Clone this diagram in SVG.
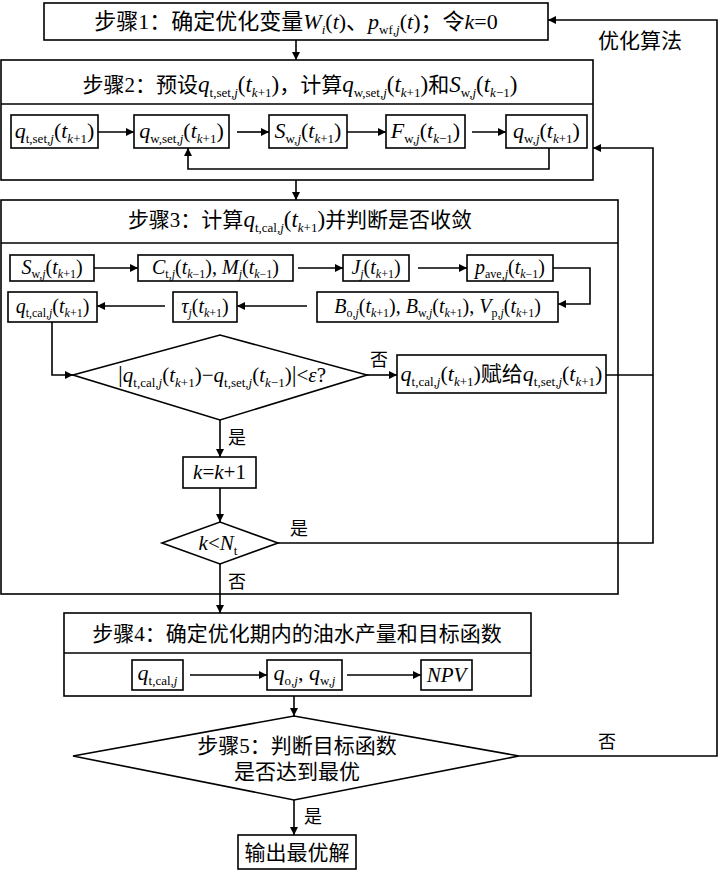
<svg xmlns="http://www.w3.org/2000/svg" width="721" height="872" viewBox="0 0 721 872">
<style>
text{font-family:"Liberation Serif","Noto Sans CJK SC",serif;fill:#000;}
.t22{font-size:22px}
.t21{font-size:21px}
.t20{font-size:20px}
.t19{font-size:19px}
.t18{font-size:18px}
.it{font-style:italic}
.sb{font-size:13px}
.sb2{font-size:12px}
.box{fill:#fff;stroke:#000;stroke-width:1.6}
.ln{fill:none;stroke:#000;stroke-width:1.6}
.mid{text-anchor:middle}
</style>
<defs>
<marker id="ah" viewBox="0 0 10 10" refX="10" refY="5" markerWidth="10" markerHeight="8" markerUnits="userSpaceOnUse" orient="auto">
<path d="M0,0 L10,5 L0,10 z" fill="#000"/>
</marker>
</defs>

<g id="step1">
<rect class="box" x="44" y="3" width="504" height="37"/>
<text class="t22 mid" x="296" y="29">步骤1：确定优化变量<tspan class="it">W</tspan><tspan class="sb it" dy="5">i</tspan><tspan dy="-5">(</tspan><tspan class="it">t</tspan>)、<tspan class="it">p</tspan><tspan class="sb" dy="5">wf,<tspan class="it">j</tspan></tspan><tspan dy="-5">(</tspan><tspan class="it">t</tspan>)；令<tspan class="it">k</tspan>=0</text>
</g>

<g id="step2">
<rect class="box" x="1" y="60" width="592" height="120"/>
<line class="ln" x1="1" y1="104" x2="593" y2="104"/>
<text class="t21 mid" x="300" y="92">步骤2：预设<tspan class="it" font-size="23">q</tspan><tspan class="sb" dy="5">t,set,<tspan class="it">j</tspan></tspan><tspan dy="-5" font-size="23">(</tspan><tspan class="it" font-size="23">t</tspan><tspan class="sb" dy="5"><tspan class="it">k</tspan>+1</tspan><tspan dy="-5" font-size="23">)</tspan><tspan>，计算</tspan><tspan class="it" font-size="23">q</tspan><tspan class="sb" dy="5">w,set,<tspan class="it">j</tspan></tspan><tspan dy="-5" font-size="23">(</tspan><tspan class="it" font-size="23">t</tspan><tspan class="sb" dy="5"><tspan class="it">k</tspan>+1</tspan><tspan dy="-5" font-size="23">)</tspan><tspan>和</tspan><tspan class="it" font-size="23">S</tspan><tspan class="sb" dy="5">w,<tspan class="it">j</tspan></tspan><tspan dy="-5" font-size="23">(</tspan><tspan class="it" font-size="23">t</tspan><tspan class="sb" dy="5"><tspan class="it">k</tspan>−1</tspan><tspan dy="-5" font-size="23">)</tspan></text>
</g>

<g id="s2a">
<rect class="box" x="11" y="115" width="87" height="33"/>
<text class="t22 mid" x="54.5" y="138"><tspan class="it">q</tspan><tspan class="sb" dy="5">t,set,<tspan class="it">j</tspan></tspan><tspan dy="-5">(</tspan><tspan class="it">t</tspan><tspan class="sb" dy="5"><tspan class="it">k</tspan>+1</tspan><tspan dy="-5">)</tspan></text>
</g>
<g id="s2b">
<rect class="box" x="134" y="115" width="95" height="33"/>
<text class="t22 mid" x="181.5" y="138"><tspan class="it">q</tspan><tspan class="sb" dy="5">w,set,<tspan class="it">j</tspan></tspan><tspan dy="-5">(</tspan><tspan class="it">t</tspan><tspan class="sb" dy="5"><tspan class="it">k</tspan>+1</tspan><tspan dy="-5">)</tspan></text>
</g>
<g id="s2c">
<rect class="box" x="269" y="115" width="78" height="33"/>
<text class="t22 mid" x="308" y="138"><tspan class="it">S</tspan><tspan class="sb" dy="5">w,<tspan class="it">j</tspan></tspan><tspan dy="-5">(</tspan><tspan class="it">t</tspan><tspan class="sb" dy="5"><tspan class="it">k</tspan>+1</tspan><tspan dy="-5">)</tspan></text>
</g>
<g id="s2d">
<rect class="box" x="386" y="115" width="79" height="33"/>
<text class="t22 mid" x="425.5" y="138"><tspan class="it">F</tspan><tspan class="sb" dy="5">w,<tspan class="it">j</tspan></tspan><tspan dy="-5">(</tspan><tspan class="it">t</tspan><tspan class="sb" dy="5"><tspan class="it">k</tspan>−1</tspan><tspan dy="-5">)</tspan></text>
</g>
<g id="s2e">
<rect class="box" x="506" y="115" width="81" height="33"/>
<text class="t22 mid" x="546.5" y="138"><tspan class="it">q</tspan><tspan class="sb" dy="5">w,<tspan class="it">j</tspan></tspan><tspan dy="-5">(</tspan><tspan class="it">t</tspan><tspan class="sb" dy="5"><tspan class="it">k</tspan>+1</tspan><tspan dy="-5">)</tspan></text>
</g>

<g id="step3">
<rect class="box" x="1" y="200" width="617" height="394"/>
<line class="ln" x1="1" y1="243" x2="618" y2="243"/>
<text class="t21 mid" x="300" y="227">步骤3：计算<tspan class="it" font-size="23">q</tspan><tspan class="sb" dy="5">t,cal,<tspan class="it">j</tspan></tspan><tspan dy="-5" font-size="23">(</tspan><tspan class="it" font-size="23">t</tspan><tspan class="sb" dy="5"><tspan class="it">k</tspan>+1</tspan><tspan dy="-5" font-size="23">)</tspan><tspan>并判断是否收敛</tspan></text>
</g>

<g id="s3a">
<rect class="box" x="10" y="255" width="84" height="26"/>
<text class="t20 mid" x="52" y="274"><tspan class="it">S</tspan><tspan class="sb2" dy="4">w,<tspan class="it">j</tspan></tspan><tspan dy="-4">(</tspan><tspan class="it">t</tspan><tspan class="sb2" dy="4"><tspan class="it">k</tspan>+1</tspan><tspan dy="-4">)</tspan></text>
</g>
<g id="s3b">
<rect class="box" x="138" y="255" width="155" height="26"/>
<text class="t20 mid" x="215.5" y="274"><tspan class="it">C</tspan><tspan class="sb2" dy="4">t,<tspan class="it">j</tspan></tspan><tspan dy="-4">(</tspan><tspan class="it">t</tspan><tspan class="sb2" dy="4"><tspan class="it">k</tspan>−1</tspan><tspan dy="-4">), </tspan><tspan class="it">M</tspan><tspan class="sb2 it" dy="4">j</tspan><tspan dy="-4">(</tspan><tspan class="it">t</tspan><tspan class="sb2" dy="4"><tspan class="it">k</tspan>−1</tspan><tspan dy="-4">)</tspan></text>
</g>
<g id="s3c">
<rect class="box" x="343" y="255" width="66" height="26"/>
<text class="t20 mid" x="376" y="274"><tspan class="it">J</tspan><tspan class="sb2 it" dy="4">j</tspan><tspan dy="-4">(</tspan><tspan class="it">t</tspan><tspan class="sb2" dy="4"><tspan class="it">k</tspan>+1</tspan><tspan dy="-4">)</tspan></text>
</g>
<g id="s3d">
<rect class="box" x="467" y="255" width="86" height="26"/>
<text class="t20 mid" x="510" y="274"><tspan class="it">p</tspan><tspan class="sb2" dy="4">ave,<tspan class="it">j</tspan></tspan><tspan dy="-4">(</tspan><tspan class="it">t</tspan><tspan class="sb2" dy="4"><tspan class="it">k</tspan>−1</tspan><tspan dy="-4">)</tspan></text>
</g>
<g id="s3e">
<rect class="box" x="317" y="292" width="241" height="30"/>
<text class="t20 mid" x="437.5" y="313"><tspan class="it">B</tspan><tspan class="sb2" dy="4">o,<tspan class="it">j</tspan></tspan><tspan dy="-4">(</tspan><tspan class="it">t</tspan><tspan class="sb2" dy="4"><tspan class="it">k</tspan>+1</tspan><tspan dy="-4">), </tspan><tspan class="it">B</tspan><tspan class="sb2" dy="4">w,<tspan class="it">j</tspan></tspan><tspan dy="-4">(</tspan><tspan class="it">t</tspan><tspan class="sb2" dy="4"><tspan class="it">k</tspan>+1</tspan><tspan dy="-4">), </tspan><tspan class="it">V</tspan><tspan class="sb2" dy="4">p,<tspan class="it">j</tspan></tspan><tspan dy="-4">(</tspan><tspan class="it">t</tspan><tspan class="sb2" dy="4"><tspan class="it">k</tspan>+1</tspan><tspan dy="-4">)</tspan></text>
</g>
<g id="s3f">
<rect class="box" x="173" y="292" width="64" height="30"/>
<text class="t20 mid" x="205" y="313"><tspan class="it">τ</tspan><tspan class="sb2 it" dy="4">j</tspan><tspan dy="-4">(</tspan><tspan class="it">t</tspan><tspan class="sb2" dy="4"><tspan class="it">k</tspan>+1</tspan><tspan dy="-4">)</tspan></text>
</g>
<g id="s3g">
<rect class="box" x="8" y="292" width="89" height="30"/>
<text class="t20 mid" x="52.5" y="313"><tspan class="it">q</tspan><tspan class="sb2" dy="4">t,cal,<tspan class="it">j</tspan></tspan><tspan dy="-4">(</tspan><tspan class="it">t</tspan><tspan class="sb2" dy="4"><tspan class="it">k</tspan>+1</tspan><tspan dy="-4">)</tspan></text>
</g>

<g id="d1">
<polygon class="box" points="73,375 220,335 367,375 220,420"/>
<text class="t21 mid" x="222" y="382"><tspan font-size="24">|</tspan><tspan class="it">q</tspan><tspan class="sb" dy="5">t,cal,<tspan class="it">j</tspan></tspan><tspan dy="-5">(</tspan><tspan class="it">t</tspan><tspan class="sb" dy="5"><tspan class="it">k</tspan>+1</tspan><tspan dy="-5">)−</tspan><tspan class="it">q</tspan><tspan class="sb" dy="5">t,set,<tspan class="it">j</tspan></tspan><tspan dy="-5">(</tspan><tspan class="it">t</tspan><tspan class="sb" dy="5"><tspan class="it">k</tspan>−1</tspan><tspan dy="-5">)</tspan><tspan font-size="24">|</tspan>&lt;<tspan class="it">ε</tspan>?</text>
</g>

<g id="assign">
<rect class="box" x="397" y="355" width="209" height="38"/>
<text class="t21 mid" x="501.5" y="381"><tspan class="it" font-size="22">q</tspan><tspan class="sb" dy="5">t,cal,<tspan class="it">j</tspan></tspan><tspan dy="-5" font-size="22">(</tspan><tspan class="it" font-size="22">t</tspan><tspan class="sb" dy="5"><tspan class="it">k</tspan>+1</tspan><tspan dy="-5" font-size="22">)</tspan><tspan>赋给</tspan><tspan class="it" font-size="22">q</tspan><tspan class="sb" dy="5">t,set,<tspan class="it">j</tspan></tspan><tspan dy="-5" font-size="22">(</tspan><tspan class="it" font-size="22">t</tspan><tspan class="sb" dy="5"><tspan class="it">k</tspan>+1</tspan><tspan dy="-5" font-size="22">)</tspan></text>
</g>

<g id="kinc">
<rect class="box" x="183" y="457" width="73" height="31"/>
<text class="t21 mid" x="219.5" y="479"><tspan class="it">k</tspan>=<tspan class="it">k</tspan>+1</text>
</g>

<g id="d2">
<polygon class="box" points="162,543 220,522 278,543 220,564"/>
<text class="t21 mid" x="218" y="550"><tspan class="it">k</tspan>&lt;<tspan class="it">N</tspan><tspan class="sb" dy="5">t</tspan></text>
</g>

<g id="step4">
<rect class="box" x="64" y="613" width="467" height="83"/>
<line class="ln" x1="64" y1="653" x2="531" y2="653"/>
<text class="t21 mid" x="297" y="641">步骤4：确定优化期内的油水产量和目标函数</text>
</g>
<g id="s4a">
<rect class="box" x="132" y="660" width="51" height="30"/>
<text class="t22 mid" x="157.5" y="680"><tspan class="it">q</tspan><tspan class="sb" dy="5">t,cal,<tspan class="it">j</tspan></tspan></text>
</g>
<g id="s4b">
<rect class="box" x="267" y="660" width="75" height="30"/>
<text class="t22 mid" x="304.5" y="680"><tspan class="it">q</tspan><tspan class="sb" dy="5">o,<tspan class="it">j</tspan></tspan><tspan dy="-5">, </tspan><tspan class="it">q</tspan><tspan class="sb" dy="5">w,<tspan class="it">j</tspan></tspan></text>
</g>
<g id="s4c">
<rect class="box" x="421" y="660" width="51" height="30"/>
<text class="t21 mid it" x="446.5" y="682">NPV</text>
</g>

<g id="step5">
<polygon class="box" points="73,756 294,716 519,756 294,800"/>
<text class="t21 mid" x="297" y="753">步骤5：判断目标函数</text>
<text class="t21 mid" x="297" y="779">是否达到最优</text>
</g>

<g id="output">
<rect class="box" x="238" y="835" width="118" height="34"/>
<text class="t21 mid" x="297" y="860">输出最优解</text>
</g>

<g id="connectors">
<line class="ln" x1="296" y1="40" x2="296" y2="60" marker-end="url(#ah)"/>
<line class="ln" x1="98" y1="132" x2="134" y2="132" marker-end="url(#ah)"/>
<line class="ln" x1="237" y1="132" x2="269" y2="132" marker-end="url(#ah)"/>
<line class="ln" x1="347" y1="132" x2="386" y2="132" marker-end="url(#ah)"/>
<line class="ln" x1="472" y1="132" x2="506" y2="132" marker-end="url(#ah)"/>
<polyline class="ln" points="549,148 549,169 188,169 188,148" marker-end="url(#ah)"/>
<line class="ln" x1="296" y1="180" x2="296" y2="200" marker-end="url(#ah)"/>
<line class="ln" x1="94" y1="268" x2="138" y2="268" marker-end="url(#ah)"/>
<line class="ln" x1="298" y1="268" x2="343" y2="268" marker-end="url(#ah)"/>
<line class="ln" x1="418" y1="268" x2="467" y2="268" marker-end="url(#ah)"/>
<polyline class="ln" points="553,268 590,268 590,304 558,304" marker-end="url(#ah)"/>
<line class="ln" x1="307" y1="306" x2="237" y2="306" marker-end="url(#ah)"/>
<line class="ln" x1="165" y1="306" x2="97" y2="306" marker-end="url(#ah)"/>
<polyline class="ln" points="52,322 52,375 73,375" marker-end="url(#ah)"/>
<line class="ln" x1="367" y1="375" x2="397" y2="375" marker-end="url(#ah)"/>
<line class="ln" x1="606" y1="375" x2="653" y2="375"/>
<line class="ln" x1="220" y1="420" x2="220" y2="457" marker-end="url(#ah)"/>
<line class="ln" x1="220" y1="488" x2="220" y2="522" marker-end="url(#ah)"/>
<polyline class="ln" points="278,543 653,543 653,148 593,148" marker-end="url(#ah)"/>
<line class="ln" x1="220" y1="564" x2="220" y2="613" marker-end="url(#ah)"/>
<line class="ln" x1="190" y1="675" x2="267" y2="675" marker-end="url(#ah)"/>
<line class="ln" x1="347" y1="675" x2="421" y2="675" marker-end="url(#ah)"/>
<line class="ln" x1="294" y1="696" x2="294" y2="716" marker-end="url(#ah)"/>
<line class="ln" x1="294" y1="800" x2="294" y2="835" marker-end="url(#ah)"/>
<polyline class="ln" points="519,756 717,756 717,20 548,20" marker-end="url(#ah)"/>
<text class="t18" x="370" y="366">否</text>
<text class="t18" x="228" y="444">是</text>
<text class="t18" x="290" y="535">是</text>
<text class="t18" x="228" y="588">否</text>
<text class="t18" x="598" y="748">否</text>
<text class="t18" x="304" y="823">是</text>
<text class="t21" x="598" y="48">优化算法</text>
</g>
</svg>
